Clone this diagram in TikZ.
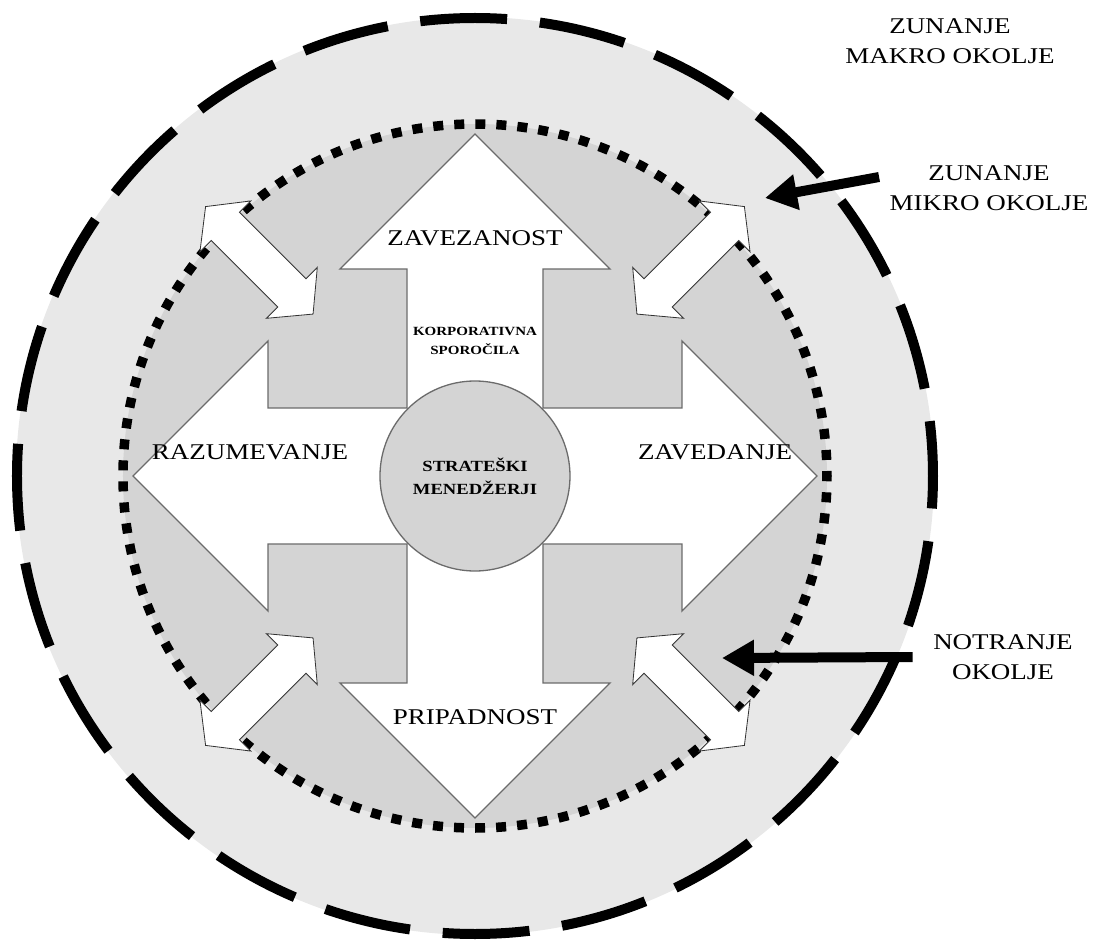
\documentclass[tikz,border=0pt]{standalone}
\usepackage{fontspec}
\setmainfont{Liberation Serif}[FakeStretch=1.2]
\usepackage{tikz}
\usetikzlibrary{arrows.meta,calc,positioning}
\definecolor{ringgray}{gray}{0.91}
\definecolor{coregray}{gray}{0.83}
\definecolor{edgegray}{gray}{0.42}

\begin{document}
\begin{tikzpicture}[x=1pt,y=1pt,
  biglabel/.style={align=center,font=\fontsize{22.5}{30}\selectfont},
  crossline/.style={draw=edgegray,line width=1.3pt},
  twoway/.style={draw=black!80,fill=white,line width=0.8pt},
  pointer/.style={line width=10pt,-{Triangle[length=32pt,width=34pt]}}]
  \useasboundingbox (-475,-464) rectangle (618,476);
  \coordinate (O) at (0,0);
  \fill[ringgray] (O) circle (459);
  \draw[line width=10pt,dash pattern=on 87pt off 32.9pt,dash phase=32pt] (O) circle (458);
  \fill[coregray] (O) circle (352);
  \draw[crossline,fill=white] (0,342)--(135,207)--(68,207)--(68,68)--(207,68)--(207,135)--(342,0)--(207,-135)--(207,-68)--(68,-68)--(68,-207)--(135,-207)--(0,-342)--(-135,-207)--(-68,-207)--(-68,-68)--(-207,-68)--(-207,-135)--(-342,0)--(-207,135)--(-207,68)--(-68,68)--(-68,207)--(-135,207)--cycle;
  \draw[line width=9.5pt,dash pattern=on 10pt off 11.064pt,dash phase=5pt] (O) circle (352);
  \foreach \a in {45,135,225,315}
    \draw[twoway,rotate=\a] (229,0)--(259,36)--(259,20)--(353,20)--(353,36)--(381,0)--(353,-36)--(353,-20)--(259,-20)--(259,-36)--cycle;
  \node[circle,crossline,fill=coregray,minimum size=190pt,inner sep=0pt,align=center,font=\bfseries\fontsize{15.5}{23}\selectfont] (mgr) at (O) {STRATEŠKI\\MENEDŽERJI};
  \node[align=center,font=\bfseries\fontsize{12.5}{19}\selectfont] (sporocila) at (0,135) {KORPORATIVNA\\SPOROČILA};
  \node[biglabel] (zavez) at (0,238) {ZAVEZANOST};\node[biglabel] (razum) at (-225,24) {RAZUMEVANJE};
  \node[biglabel] (zaved) at (240,24) {ZAVEDANJE};\node[biglabel] (pripad) at (0,-241) {PRIPADNOST};
  \node[biglabel] (makro) at (475,435) {ZUNANJE\\MAKRO OKOLJE};
  \node[biglabel] (mikro) at (514,288) {ZUNANJE\\MIKRO OKOLJE};
  \node[biglabel] (notranje) at (528,-181) {NOTRANJE\\OKOLJE};
  \coordinate (mikrotip) at (290,278);
  \coordinate (notranjetip) at (247,-182);
  \draw[pointer] ([shift={(-7,11)}]mikro.west) -- (mikrotip);
  \draw[pointer] ([xshift=-17pt]notranje.west) -- (notranjetip);
\end{tikzpicture}
\end{document}
